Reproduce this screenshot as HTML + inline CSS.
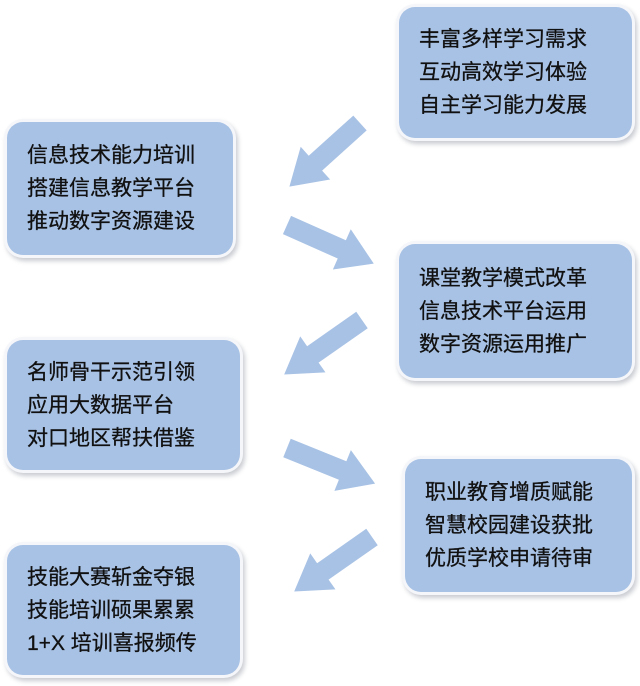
<!DOCTYPE html><html><head><style>
body{margin:0;width:640px;height:686px;background:#fff;position:relative;overflow:hidden;font-family:"Liberation Sans","Noto Sans CJK SC",sans-serif}
.b{position:absolute;background:#a8c2e5;border-radius:16px;box-shadow:0 0 0 3px #f4f6f9,2px 3px 5px 3px #c9ccd2;font-size:21px;line-height:33px;color:#111;box-sizing:border-box;padding-left:20px;display:flex;flex-direction:column;justify-content:center;-webkit-text-stroke:0.3px #111}
svg{position:absolute;left:0;top:0}
</style></head><body>
<svg width="640" height="686">
<defs><polygon id="ar" fill="#a8c2e5" points="0,-10 60,-10 60,-22 95,0 60,22 60,10 0,10"/></defs>
<use href="#ar" transform="translate(360,123) rotate(138)"/>
<use href="#ar" transform="translate(287,225) rotate(24)"/>
<use href="#ar" transform="translate(362,320) rotate(145)"/>
<use href="#ar" transform="translate(287,448) rotate(22)"/>
<use href="#ar" transform="translate(372,537) rotate(145)"/>
</svg>
<div class="b" style="left:399px;top:7px;width:233px;height:131px">丰富多样学习需求<br>互动高效学习体验<br>自主学习能力发展</div>
<div class="b" style="left:7px;top:122px;width:226px;height:133px">信息技术能力培训<br>搭建信息教学平台<br>推动数字资源建设</div>
<div class="b" style="left:399px;top:244px;width:233px;height:134px">课堂教学模式改革<br>信息技术平台运用<br>数字资源运用推广</div>
<div class="b" style="left:7px;top:340px;width:233px;height:130px">名师骨干示范引领<br>应用大数据平台<br>对口地区帮扶借鉴</div>
<div class="b" style="left:405px;top:459px;width:227px;height:133px">职业教育增质赋能<br>智慧校园建设获批<br>优质学校申请待审</div>
<div class="b" style="left:7px;top:545px;width:233px;height:130px">技能大赛斩金夺银<br>技能培训硕果累累<br>1+X 培训喜报频传</div>
</body></html>
